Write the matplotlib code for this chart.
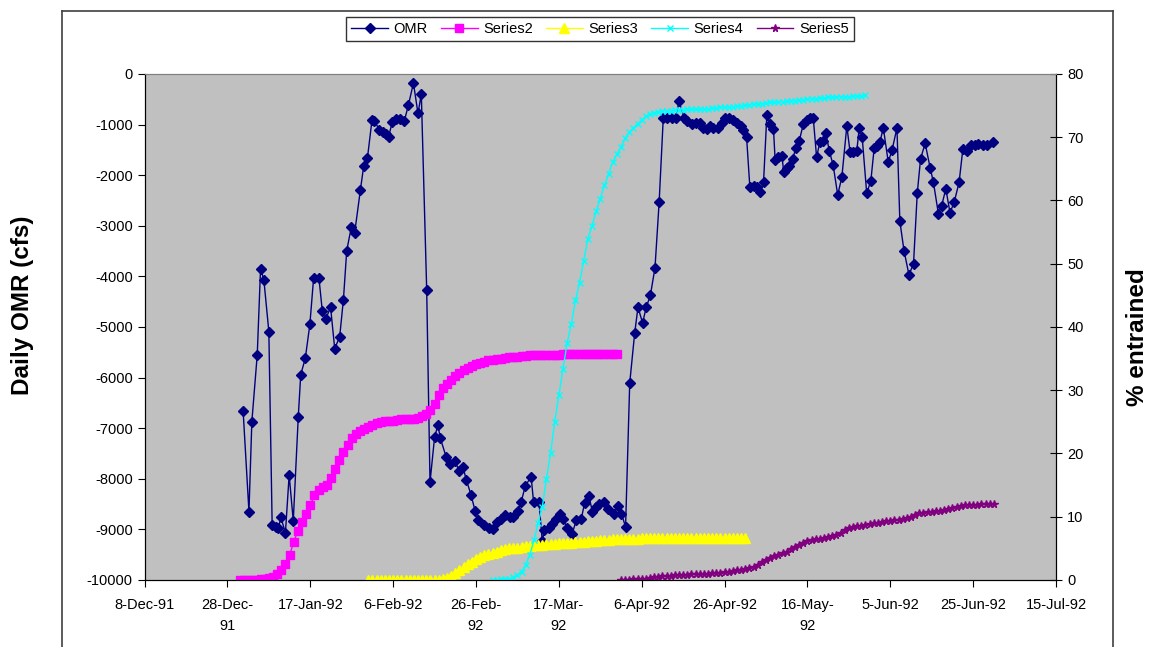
import datetime as dt
import numpy as np
import matplotlib
matplotlib.use("Agg")
import matplotlib.pyplot as plt
import matplotlib.dates as mdates
from matplotlib.lines import Line2D

plt.rcParams['font.family'] = ['Liberation Sans', 'DejaVu Sans']

# all days are counted from 8-Dec-91
base_date = dt.datetime(1991, 12, 8)

tick_days = [0, 20, 40, 60, 80, 100, 120, 140, 160, 180, 200, 220]
tick_labels = ['8-Dec-91', '28-Dec-\n91', '17-Jan-92', '6-Feb-92', '26-Feb-\n92',
               '17-Mar-\n92', '6-Apr-92', '26-Apr-92', '16-May-\n92', '5-Jun-92',
               '25-Jun-92', '15-Jul-92']

omr_day = [23.8, 25.2, 25.9, 27.2, 28.0, 28.8, 30.0, 30.8, 31.7, 32.3, 32.9, 34.0, 34.9, 35.9,
           37.1, 37.7, 38.8, 39.9, 40.8, 42.1, 42.9, 43.7, 44.9, 45.9, 47.1, 48.0, 48.8, 49.9,
           50.7, 52.1, 52.9, 53.8, 54.9, 55.5, 56.7, 57.5, 58.3, 58.9, 59.8, 60.7, 61.7, 62.7,
           63.7, 64.9, 66.0, 66.8, 68.1, 68.9, 70.0, 70.8, 71.4, 72.8, 73.7, 75.0, 75.8, 76.8,
           77.7, 78.8, 79.8, 80.6,
           82.0, 83.1, 84.0, 85.0, 86.0, 87.1, 88.1, 89.0, 90.1, 90.9, 91.9, 93.3, 93.9, 95.2,
           96.0, 96.5, 97.6, 98.4, 99.2, 100.2, 101.1, 102.0, 103.2, 104.2, 105.4, 106.2, 107.3,
           108.1, 109.0, 109.8, 110.8, 111.9, 113.2, 114.3, 115.1, 116.1, 117.1, 118.3, 119.1,
           120.2, 121.1, 122.1, 123.2, 124.2, 125.2, 126.1, 127.2, 128.2, 129.0,
           130.2, 131.0, 132.1, 133.1, 134.1, 134.9, 135.7, 136.5, 137.3, 138.5, 139.3, 140.1,
           141.1, 142.1, 143.1, 143.9, 144.5, 145.3, 146.1, 147.1, 147.8, 148.6, 149.4, 150.2,
           151.0, 151.8, 152.2, 153.0, 153.8, 154.3, 155.0, 155.6, 156.4, 157.2, 158.0, 159.0,
           159.8, 160.6, 161.4, 162.2, 163.0, 163.8, 164.4, 165.3, 166.2, 167.3, 168.3, 169.5,
           170.3, 171.1, 171.9, 172.5, 173.2, 174.3, 175.3, 176.1, 176.9, 177.5, 178.3, 179.5,
           180.4, 181.6, 182.3, 183.3, 184.5, 185.6, 186.5, 187.3, 188.4, 189.6, 190.4, 191.6,
           192.4, 193.4, 194.4, 195.4, 196.6, 197.5, 198.4, 199.4, 200.5, 201.2, 202.3, 203.3,
           204.9]
omr_cfs = [-6670, -8650, -6870, -5550, -3850, -4070, -5090, -8910, -8950, -8980, -8760, -9070,
           -7930, -8830, -6780, -5940, -5620, -4950, -4040, -4040, -4680, -4850, -4610, -5430,
           -5190, -4460, -3490, -3030, -3150, -2290, -1820, -1660, -910, -930, -1110, -1140,
           -1180, -1250, -940, -890, -890, -930, -610, -180, -780, -400, -4270, -8070, -7180,
           -6940, -7200, -7570, -7710, -7640, -7840, -7760, -8030, -8320, -8640, -8820,
           -8910, -8970, -9000, -8860, -8800, -8710, -8760, -8750, -8630, -8460, -8140, -7960,
           -8460, -8460, -9230, -9020, -8970, -8900, -8800, -8690, -8800, -8980, -9090, -8820,
           -8800, -8480, -8350, -8660, -8560, -8490, -8460, -8590, -8690, -8540, -8690, -8950,
           -6110, -5120, -4610, -4920, -4610, -4370, -3830, -2540, -870, -880, -870, -880, -540,
           -870, -930, -980, -960, -960, -1060, -1090, -1030, -1060, -1070, -960, -870,
           -870, -910, -960, -1030, -1110, -1240, -2240, -2210, -2240, -2340, -2140, -810,
           -990, -1090, -1700, -1650, -1620, -1930, -1860, -1810, -1680, -1470, -1330, -990,
           -910, -870, -870, -1640, -1350, -1320, -1160, -1530, -1800, -2390, -2040, -1030,
           -1550, -1550, -1520, -1070, -1240, -2360, -2110, -1470, -1420, -1350, -1060, -1740,
           -1510, -1070, -2910, -3490, -3970, -3750, -2360, -1680, -1370, -1850, -2140, -2760,
           -2600, -2270, -2740, -2540, -2140, -1490, -1530, -1400, -1400, -1390, -1400, -1400,
           -1350]

s2_start = 23
s2_pct = [0.0, 0.0, 0.0, 0.0, 0.0, 0.1, 0.2, 0.3, 0.5, 0.9, 1.5, 2.5, 3.9, 6.0, 7.8, 9.2,
          10.4, 11.8, 13.4, 14.3, 14.7, 15.0, 16.2, 17.5, 18.9, 20.3, 21.3, 22.5, 23.0, 23.5,
          23.9, 24.2, 24.5, 24.8, 25.0, 25.1, 25.2, 25.2, 25.3, 25.4, 25.4, 25.4, 25.5, 25.6,
          25.9, 26.2, 26.8, 27.8, 29.2, 30.4, 31.0, 31.6, 32.3, 32.8, 33.2, 33.5, 33.8, 34.1,
          34.3, 34.5, 34.7, 34.8, 34.9, 35.0, 35.1, 35.2, 35.3, 35.3, 35.4, 35.4, 35.5, 35.5,
          35.5, 35.6, 35.6, 35.6, 35.6, 35.6, 35.7, 35.7, 35.7, 35.7, 35.7, 35.7, 35.7, 35.8,
          35.8, 35.8, 35.8, 35.8, 35.8, 35.8]

s3_start = 54
s3_pct = [0.0, 0.0, 0.0, 0.0, 0.0, 0.0, 0.0, 0.0, 0.0, 0.0, 0.0, 0.0, 0.0, 0.0, 0.0, 0.0,
          0.0, 0.05, 0.1, 0.3, 0.6, 1.1, 1.5, 2.0, 2.5, 2.9, 3.3, 3.6, 3.9, 4.1, 4.3, 4.5,
          4.7, 4.9, 5.0, 5.05, 5.1, 5.25, 5.3, 5.4, 5.45, 5.5, 5.6, 5.65, 5.7, 5.75, 5.8, 5.85,
          5.9, 5.9, 5.95, 6.0, 6.05, 6.1, 6.15, 6.2, 6.25, 6.3, 6.35, 6.4, 6.45, 6.45, 6.5,
          6.5, 6.55, 6.55, 6.6, 6.6, 6.6, 6.6, 6.6, 6.65, 6.65, 6.65, 6.65, 6.65, 6.7, 6.7,
          6.7, 6.7, 6.7, 6.7, 6.7, 6.7, 6.7, 6.7, 6.7, 6.7, 6.7, 6.7, 6.7, 6.7]

s4_start = 84
s4_pct = [0.0, 0.0, 0.1, 0.1, 0.2, 0.4, 0.8, 1.3, 2.4, 4.0, 6.3, 9.0, 11.5, 16.0, 20.0, 25.0,
          29.2, 33.4, 37.5, 40.4, 44.2, 47.0, 50.5, 53.9, 56.0, 58.3, 60.3, 62.4, 64.2, 66.1,
          67.3, 68.5, 69.8, 70.8, 71.5, 72.1, 72.7, 73.3, 73.7, 73.9, 74.0, 74.1, 74.2, 74.2,
          74.3, 74.3, 74.3, 74.4, 74.4, 74.4, 74.5, 74.5, 74.5, 74.6, 74.6, 74.7, 74.7, 74.8,
          74.8, 74.9, 75.0, 75.1, 75.1, 75.2, 75.3, 75.3, 75.4, 75.5, 75.5, 75.6, 75.6, 75.7,
          75.8, 75.8, 75.9, 75.9, 76.0, 76.1, 76.1, 76.2, 76.2, 76.3, 76.3, 76.3, 76.4, 76.4,
          76.4, 76.5, 76.5, 76.5, 76.6]

s5_start = 115
s5_pct = [0.0, 0.0, 0.05, 0.1, 0.15, 0.15, 0.2, 0.3, 0.4, 0.5, 0.55, 0.6, 0.7, 0.75, 0.8,
          0.8, 0.85, 0.9, 0.9, 0.95, 1.0, 1.0, 1.05, 1.1, 1.15, 1.2, 1.3, 1.4, 1.5, 1.6, 1.75,
          1.9, 2.1, 2.4, 2.8, 3.2, 3.5, 3.75, 4.0, 4.2, 4.5, 4.9, 5.2, 5.5, 5.8, 6.1, 6.3, 6.4,
          6.55, 6.65, 6.8, 6.9, 7.1, 7.5, 7.9, 8.2, 8.4, 8.5, 8.6, 8.7, 8.85, 8.95, 9.05, 9.2,
          9.3, 9.4, 9.45, 9.55, 9.6, 9.8, 10.0, 10.3, 10.55, 10.65, 10.7, 10.75, 10.85, 10.9,
          11.0, 11.15, 11.35, 11.6, 11.75, 11.85, 11.9, 11.9, 11.9, 11.95, 12.0, 12.0, 11.95]


def to_x(days):
    return mdates.date2num(base_date) + np.asarray(days, dtype=float)


def daily_x(start, values):
    return to_x(start + np.arange(len(values)))


fig = plt.figure(figsize=(11.49, 6.47), dpi=100)
ax = fig.add_axes([0.1258, 0.1036, 0.7933, 0.7821])
ax2 = ax.twinx()

ax.set_facecolor('#C0C0C0')

h1, = ax.plot(to_x(omr_day), omr_cfs, color='#000080', lw=1, marker='D', ms=5.5,
              label='OMR')
h2, = ax2.plot(daily_x(s2_start, s2_pct), s2_pct, color='#FF00FF', lw=1, marker='s',
               ms=5.5, label='Series2')
h3, = ax2.plot(daily_x(s3_start, s3_pct), s3_pct, color='#FFFF00', lw=1, marker='^',
               ms=6.5, label='Series3')
h4, = ax2.plot(daily_x(s4_start, s4_pct), s4_pct, color='#00FFFF', lw=1, marker='x',
               ms=5, mew=1, label='Series4')
h5, = ax2.plot(daily_x(s5_start, s5_pct), s5_pct, color='#800080', lw=1, marker='*',
               ms=5.5, label='Series5')

ax.set_xlim(to_x(0), to_x(220))
ax.set_ylim(-10000, 0)
ax2.set_ylim(0, 80)

ax.set_xticks(to_x(tick_days))
ax.set_xticklabels(tick_labels, fontsize=10.5, linespacing=1.6)
ax.set_yticks(np.arange(-10000, 1, 1000))
ax.set_yticklabels([str(v) for v in range(-10000, 1, 1000)], fontsize=10.5)
ax2.set_yticks(np.arange(0, 81, 10))
ax2.tick_params(axis='y', labelsize=10.5, direction='inout', length=8, pad=4)
ax.tick_params(axis='both', direction='out', length=5)
ax.tick_params(axis='x', pad=8)

for a in (ax, ax2):
    a.spines['top'].set_color('#808080')
    a.spines['left'].set_color('black')
    a.spines['right'].set_color('black')
    a.spines['bottom'].set_color('black')

fig.text(23 / 1149, 1 - 305 / 647, 'Daily OMR (cfs)', rotation=90, fontsize=17.5,
         fontweight='bold', ha='center', va='center')
fig.text(1137 / 1149, 1 - 337 / 647, '% entrained', rotation=90, fontsize=17.5,
         fontweight='bold', ha='center', va='center')

leg = fig.legend(handles=[h1, h2, h3, h4, h5], loc='center', ncol=5,
                 bbox_to_anchor=(600 / 1149, 1 - 29 / 647), fontsize=10.5,
                 frameon=True, fancybox=False, handlelength=2.5, handletextpad=0.4,
                 columnspacing=0.9, borderpad=0.35, edgecolor='black')
leg.get_frame().set_linewidth(1)

# outer chart frame
fx0, fx1, fy1 = 62 / 1149, 1113 / 1149, 1 - 11 / 647
for xs, ys in (([fx0, fx0], [-0.02, fy1]), ([fx0, fx1], [fy1, fy1]), ([fx1, fx1], [fy1, -0.02])):
    fig.add_artist(Line2D(xs, ys, color='#404040', lw=1.2, transform=fig.transFigure))

fig.savefig('out.png', dpi=100)
